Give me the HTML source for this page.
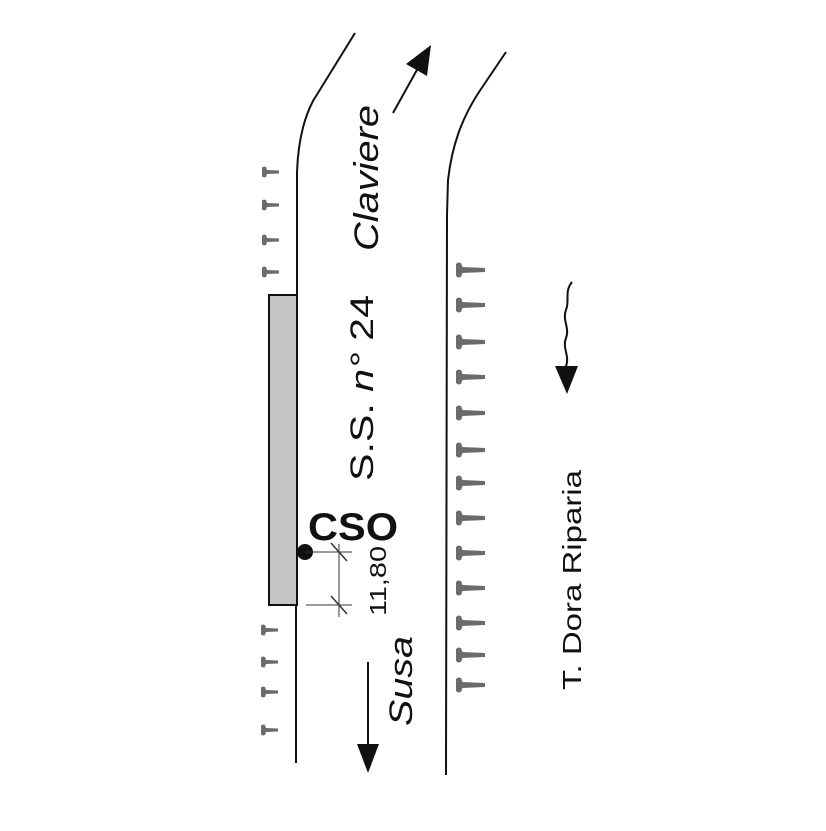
<!DOCTYPE html>
<html><head><meta charset="utf-8"><style>html,body{margin:0;padding:0;background:#fff}</style></head><body>
<svg width="826" height="826" viewBox="0 0 826 826" xmlns="http://www.w3.org/2000/svg" font-family="Liberation Sans, sans-serif">
<defs>
<polygon id="tr" points="0,-6 2,-7.5 5,-7 6.5,-3 29,-2 29,2 6.5,3 5,7 2,7.5 0,6" fill="#6b6b6b"/>
<polygon id="tl" points="0,-4.5 2,-5.5 4,-5 5,-2 17,-1.5 17,1.5 5,2 4,5 2,5.5 0,4.5" fill="#6b6b6b"/>
</defs>
<path d="M355,33 L313,101 C303,120 298,145 297,172 L297,295" fill="none" stroke="#111" stroke-width="2"/>
<line x1="296" y1="605" x2="296" y2="763" stroke="#111" stroke-width="2"/>
<path d="M506,52 L479,92 C462,118 452,145 448,180 L447,215 L446,775" fill="none" stroke="#111" stroke-width="2"/>
<rect x="269" y="295" width="28" height="310" fill="#c4c4c4" stroke="#111" stroke-width="2"/>
<use href="#tl" x="262" y="172"/><use href="#tl" x="262" y="205"/><use href="#tl" x="262" y="240"/><use href="#tl" x="262" y="272"/>
<use href="#tl" x="261" y="630"/><use href="#tl" x="261" y="662"/><use href="#tl" x="261" y="692"/><use href="#tl" x="261" y="730"/>
<use href="#tr" x="456" y="270"/><use href="#tr" x="456" y="305"/><use href="#tr" x="456" y="342"/><use href="#tr" x="456" y="377"/>
<use href="#tr" x="456" y="413"/><use href="#tr" x="456" y="450"/><use href="#tr" x="456" y="483"/><use href="#tr" x="456" y="518"/>
<use href="#tr" x="456" y="553"/><use href="#tr" x="456" y="588"/><use href="#tr" x="456" y="623"/><use href="#tr" x="456" y="655"/>
<use href="#tr" x="456" y="685"/>
<line x1="393" y1="113" x2="418" y2="68" stroke="#111" stroke-width="2"/>
<polygon points="431,45 406,64 427,76" fill="#111"/>
<line x1="368" y1="662" x2="368" y2="750" stroke="#111" stroke-width="2"/>
<polygon points="357,744 379,744 368,773" fill="#111"/>
<path d="M572,282 C564,292 570,300 566,310 C562,320 570,328 566,338 C562,348 570,356 566,366 L566,372" fill="none" stroke="#111" stroke-width="2"/>
<polygon points="555,366 578,366 567,394" fill="#111"/>
<circle cx="305" cy="552" r="8" fill="#111"/>
<g stroke="#333" stroke-width="1">
<line x1="305" y1="552" x2="352" y2="552"/>
<line x1="306" y1="605" x2="352" y2="605"/>
<line x1="339" y1="544" x2="339" y2="617"/>
<line x1="331" y1="543" x2="347" y2="561" stroke-width="1.5"/>
<line x1="331" y1="596" x2="347" y2="614" stroke-width="1.5"/>
</g>
<text x="308" y="540" font-size="39" font-weight="bold" fill="#111" textLength="90" lengthAdjust="spacingAndGlyphs">CSO</text>
<text transform="translate(378,251) rotate(-90)" font-size="34" font-style="italic" fill="#111" textLength="146" lengthAdjust="spacingAndGlyphs">Claviere</text>
<text transform="translate(373,481) rotate(-90)" font-size="32" fill="#111" textLength="186" lengthAdjust="spacingAndGlyphs">S.S. <tspan font-style="italic">n°</tspan> 24</text>
<text transform="translate(412,726) rotate(-90)" font-size="32" font-style="italic" fill="#111" textLength="90" lengthAdjust="spacingAndGlyphs">Susa</text>
<text transform="translate(581,690) rotate(-90)" font-size="26" fill="#111" textLength="220" lengthAdjust="spacingAndGlyphs">T. Dora Riparia</text>
<text transform="translate(386,616) rotate(-90)" font-size="23" fill="#111" textLength="70" lengthAdjust="spacingAndGlyphs">11,80</text>
</svg>
</body></html>
